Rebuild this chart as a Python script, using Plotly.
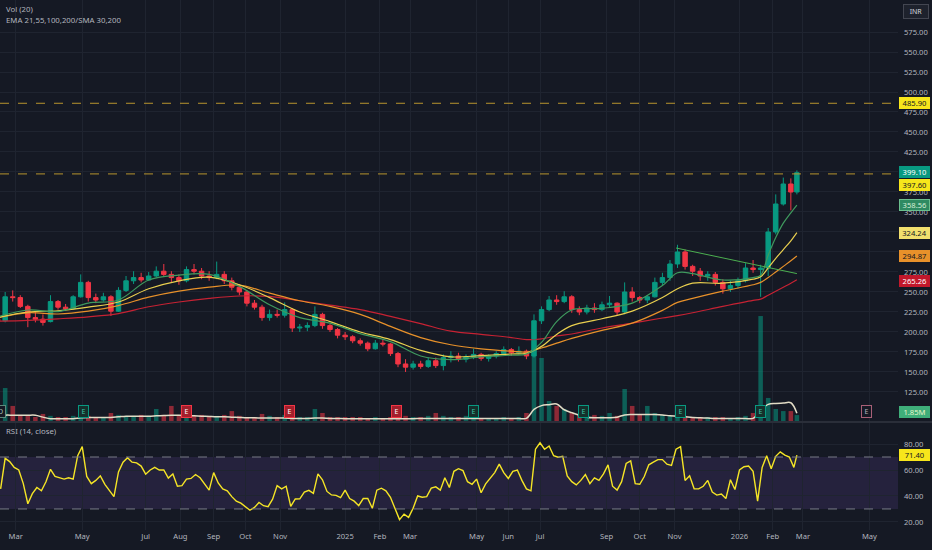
import pandas as pd
import plotly.graph_objects as go

# ---------------- data ----------------
week_dates = list(pd.date_range("2024-02-14", periods=106, freq="7D").strftime("%Y-%m-%d")) + ["2026-02-24"]

opens = [216, 214, 244, 243, 232, 218, 216, 213, 238, 231, 229, 244, 262, 243, 240, 244, 226, 252, 264, 268,
         265, 270, 276, 272, 268, 264, 278, 276, 270, 268, 272, 264, 256, 250, 236, 231, 218, 222, 221, 228,
         205, 206, 208, 222, 208, 203, 196, 194, 189, 186, 179, 186, 185, 173, 160, 156, 160, 157, 164, 158,
         168, 170, 166, 169, 172, 167, 170, 173, 178, 174, 176, 170, 214, 228, 240, 238, 244, 228, 225, 230,
         228, 234, 236, 225, 250, 243, 240, 244, 262, 268, 285, 300, 282, 276, 270, 272, 262, 254, 258, 264,
         280, 278, 280, 325, 360, 385, 375]
highs = [222, 250, 252, 246, 234, 225, 222, 246, 240, 235, 246, 272, 264, 248, 249, 246, 256, 270, 276, 274,
         275, 282, 285, 276, 272, 282, 285, 280, 276, 288, 276, 268, 260, 252, 240, 234, 228, 228, 237, 230,
         210, 212, 232, 224, 210, 205, 200, 196, 192, 188, 190, 191, 186, 175, 166, 164, 164, 168, 168, 172,
         176, 174, 172, 179, 174, 172, 176, 182, 180, 182, 178, 222, 232, 245, 246, 251, 246, 232, 234, 236,
         238, 245, 237, 262, 256, 245, 246, 268, 274, 290, 309, 303, 284, 280, 276, 275, 266, 264, 268, 286,
         290, 284, 330, 372, 393, 392, 402]
lows = [209, 212, 238, 230, 206, 212, 208, 212, 228, 227, 228, 243, 238, 236, 238, 220, 225, 250, 260, 262,
        264, 268, 270, 262, 259, 262, 272, 266, 264, 266, 260, 252, 246, 232, 228, 214, 214, 218, 218, 200,
        200, 201, 206, 204, 200, 192, 190, 186, 183, 176, 178, 182, 170, 156, 150, 153, 154, 155, 155, 152,
        162, 163, 162, 166, 164, 163, 167, 171, 170, 172, 166, 168, 210, 226, 234, 236, 224, 221, 222, 224,
        226, 230, 221, 222, 238, 236, 236, 243, 258, 264, 280, 278, 270, 264, 264, 258, 248, 250, 254, 262,
        274, 244, 270, 322, 358, 352, 372]
closes = [214, 244, 243, 232, 218, 216, 212, 238, 231, 229, 244, 262, 243, 240, 244, 226, 252, 264, 268, 265,
          270, 276, 272, 268, 264, 278, 276, 270, 268, 272, 264, 256, 250, 236, 231, 218, 222, 221, 228, 205,
          206, 208, 222, 208, 203, 196, 194, 189, 186, 179, 186, 185, 173, 160, 156, 160, 157, 164, 158, 168,
          170, 166, 169, 172, 167, 170, 173, 178, 174, 176, 170, 214, 228, 240, 238, 244, 228, 225, 230, 228,
          234, 236, 225, 250, 243, 240, 244, 262, 268, 285, 300, 282, 276, 270, 272, 262, 254, 258, 264, 280,
          278, 280, 325, 360, 385, 375, 399.1]
volume_m = [1.6, 10.3, 4.7, 1.9, 1.6, 1.25, 2.2, 1.6, 1.25, 1.25, 1.6, 2.5, 1.6, 1.25, 1.25, 2.5, 1.9, 1.6, 1.6, 1.9,
            1.6, 3.75, 1.9, 4.7, 1.9, 2.5, 1.6, 1.9, 1.6, 1.6, 1.9, 3.1, 1.6, 1.25, 1.25, 2.2, 1.6, 1.25, 1.9, 1.6,
            1.25, 1.25, 3.75, 2.5, 1.25, 1.25, 1.25, 1.25, 1.25, 0.9, 1.25, 0.9, 1.25, 1.25, 1.6, 1.25, 1.25, 1.6, 2.5, 1.6,
            1.25, 1.25, 1.6, 1.6, 0.9, 0.9, 0.9, 1.25, 0.9, 1.25, 2.5, 31.3, 19.7, 6.25, 4.7, 3.75, 2.5, 1.9, 3.1, 1.9,
            1.6, 2.5, 1.6, 10.0, 4.7, 1.9, 4.7, 2.5, 1.9, 1.6, 1.9, 1.6, 1.25, 1.25, 1.25, 1.25, 1.25, 0.9, 1.25, 1.6,
            2.5, 32.8, 7.2, 3.75, 3.1, 3.1, 1.85]
volume_ma = [1.3, 1.8, 1.8, 1.8, 1.8, 1.8, 1.2, 0.7, 0.7, 0.7, 0.7, 1.0, 1.1, 1.1, 1.1, 1.1, 1.3, 1.5, 1.5, 1.5,
             1.5, 1.6, 1.7, 1.8, 1.8, 1.7, 1.6, 1.5, 1.4, 1.3, 1.3, 1.2, 1.1, 1.0, 1.0, 0.9, 0.9, 0.9, 0.9, 0.8,
             0.8, 0.8, 0.9, 0.9, 0.8, 0.8, 0.7, 0.7, 0.7, 0.7, 0.7, 0.7, 0.7, 0.7, 0.7, 0.7, 0.8, 0.8, 0.8, 0.8,
             0.8, 0.8, 0.8, 0.8, 0.8, 0.8, 0.8, 0.8, 0.8, 0.8, 0.8, 3.6, 4.8, 5.1, 5.3, 3.5, 2.6, 1.8, 1.2, 1.0,
             1.0, 1.0, 1.2, 1.9, 2.0, 2.0, 2.0, 2.0, 1.9, 1.6, 1.5, 1.3, 1.1, 1.0, 0.9, 0.8, 0.8, 0.8, 0.8, 0.8,
             0.8, 3.3, 5.2, 5.5, 5.6, 5.7, 2.4]

ema_idx = [0, 4, 8, 12, 16, 20, 24, 28, 32, 36, 40, 44, 48, 52, 56, 60, 64, 68, 70, 72, 74, 76, 80, 84, 88, 90,
           92, 96, 100, 101, 102, 103, 104, 105, 106]
ema21 = [219, 227.5, 225.5, 236, 240, 265, 271, 272, 257, 234, 218, 211, 198, 188, 170, 165.5, 169, 171, 172.5,
         187, 213, 227.5, 229.6, 236, 258, 274, 273, 265, 268, 271, 296, 318, 336, 349, 358.56]
ema55 = [218, 225, 226.5, 231, 237.5, 254, 264, 268.5, 259, 243, 225, 213, 200, 190.5, 177, 169, 170.5, 172.5,
         173.4, 182, 197, 208, 216.5, 226, 243, 254, 261, 261, 266, 269, 280, 292, 303, 314, 324.24]
ema100 = [218, 224, 222.5, 226, 233, 243.5, 251, 256, 258.5, 248.5, 239, 232, 222, 207, 193, 184, 179, 176, 175,
          180, 186, 192, 202, 211, 227, 237, 242, 251, 259, 262, 268, 275, 282, 289, 294.87]
ema200 = [213.5, 214.5, 216.5, 219, 223, 231.5, 237.5, 242, 245, 244.5, 239, 233.5, 228, 219.5, 210.5, 201, 197,
          193, 190.5, 191.5, 195, 197.5, 205, 211, 217.5, 220.5, 224, 232, 239.5, 241, 246, 251, 256, 261, 265.26]

trend_dates = ["2025-11-04", "2026-02-24"]
trend_vals = [305, 273]

rsi_dates = list(pd.bdate_range("2024-02-16", periods=176, freq="3B").strftime("%Y-%m-%d")) + ["2026-02-24"]
rsi = [45.5, 69, 66.5, 62, 60, 49.5, 34, 41.8, 46.5, 44,
       51, 60.5, 55, 54, 53, 54, 53, 71, 78, 55,
       49.5, 52, 55.5, 49, 44, 39.5, 58.5, 66, 69.5, 66,
       65.5, 63, 56.8, 60, 62, 60, 60, 53.8, 57, 47.5,
       48, 53, 53.5, 56.5, 54, 49, 44.5, 58, 50, 45.5,
       44, 39.5, 36, 34.5, 31.5, 29, 31.2, 35, 32.5, 31.8,
       37.5, 48, 45.5, 47.5, 32, 37.7, 37.8, 43, 44.3, 42,
       57, 52.5, 43.5, 40.8, 40.5, 38.8, 44.5, 38, 36, 32.5,
       38, 38, 30.5, 44.5, 46, 44, 39, 30.5, 21.8, 26,
       23.5, 30.5, 40, 39, 39.5, 46, 47, 44.5, 54, 46.5,
       59, 61, 59.5, 51, 49, 53, 42.5, 49.3, 53.5, 58,
       64.5, 58, 53.5, 59, 60, 52, 45.5, 44, 76, 81,
       76, 78.5, 71, 69.8, 70.5, 55.5, 51, 48.5, 52, 56.5,
       49.5, 54, 52, 57, 64, 47.5, 44.5, 51, 65, 67,
       49.5, 49, 55, 64, 66, 68, 68, 64.5, 63.5, 76,
       78, 52, 55.5, 45.5, 45.5, 47.5, 52, 43, 40.7, 41.5,
       38, 52.5, 45, 60, 62.5, 63, 59, 36, 62, 71,
       61, 70.5, 74, 71.5, 70, 62, 71.4]

levels = [485.90, 397.60]

tick_dates = ["2024-03-01", "2024-05-02", "2024-07-01", "2024-08-01", "2024-09-02", "2024-10-01", "2024-11-01",
              "2025-01-01", "2025-02-03", "2025-03-03", "2025-05-02", "2025-06-02", "2025-07-01", "2025-09-01",
              "2025-10-01", "2025-11-03", "2026-01-01", "2026-02-02", "2026-03-02", "2026-05-01"]
tick_text = ["Mar", "May", "Jul", "Aug", "Sep", "Oct", "Nov", "2025", "Feb", "Mar", "May", "Jun", "Jul", "Sep",
             "Oct", "Nov", "2026", "Feb", "Mar", "May"]
price_ticks = [125, 150, 175, 200, 225, 250, 275, 300, 325, 350, 375, 400, 425, 450, 475, 500, 525, 550, 575]
hidden_price_ticks = [325, 400]
rsi_ticks = [20, 40, 60, 80]

event_dates = ["2024-02-16", "2024-05-03", "2024-08-07", "2024-11-11", "2025-02-18", "2025-04-30",
               "2025-08-11", "2025-11-07", "2026-01-21", "2026-04-29"]
event_kind = ["D", "up", "down", "down", "down", "up", "up", "up", "up", "future"]

# ---------------- styling ----------------
BG = "#151924"
GRID = "#1f2430"
TXT = "#b2b5be"
UP = "#089981"
DN = "#f23645"
FONT = "Noto Sans"
FS = 7.6

fig = go.Figure()

fig.add_trace(go.Candlestick(
    x=week_dates, open=opens, high=highs, low=lows, close=closes,
    increasing=dict(line=dict(color=UP, width=1), fillcolor=UP),
    decreasing=dict(line=dict(color=DN, width=1), fillcolor=DN),
    whiskerwidth=0, xaxis="x", yaxis="y", showlegend=False, hoverinfo="skip"))

ema_dates = [week_dates[i] for i in ema_idx]
for vals, col in [(ema200, "#c62233"), (ema100, "#e8912a"), (ema55, "#e9cf4f"), (ema21, "#3f9a5e")]:
    fig.add_trace(go.Scatter(x=ema_dates, y=vals, mode="lines", line=dict(color=col, width=1.2, shape="spline"),
                             xaxis="x", yaxis="y", showlegend=False, hoverinfo="skip"))

fig.add_trace(go.Scatter(x=trend_dates, y=trend_vals, mode="lines", line=dict(color="#4caf50", width=1),
                         xaxis="x", yaxis="y", showlegend=False, hoverinfo="skip"))

vol_colors = ["rgba(8,153,129,0.55)" if c >= o else "rgba(242,54,69,0.55)" for o, c in zip(opens, closes)]
fig.add_trace(go.Bar(x=week_dates, y=volume_m, marker=dict(color=vol_colors, line=dict(width=0)),
                     width=3 * 86400000, xaxis="x", yaxis="y3", showlegend=False, hoverinfo="skip"))
fig.add_trace(go.Scatter(x=week_dates, y=volume_ma, mode="lines", line=dict(color="#e2dcc6", width=1.5, shape="spline"),
                         xaxis="x", yaxis="y3", showlegend=False, hoverinfo="skip"))

fig.add_trace(go.Scatter(x=rsi_dates, y=rsi, mode="lines", line=dict(color="#f5e526", width=1.4),
                         xaxis="x2", yaxis="y2", showlegend=False, hoverinfo="skip"))

xr = ["2024-02-15 14:00", "2026-05-27 22:00"]
rb = [dict(bounds=["sat", "mon"])]
common_x = dict(range=xr, rangebreaks=rb, tickvals=tick_dates, ticktext=tick_text, showgrid=True,
                gridcolor=GRID, gridwidth=1, zeroline=False, showline=False, ticks="",
                tickfont=dict(family=FONT, size=FS, color=TXT), fixedrange=True)

fig.update_layout(
    width=932, height=550, paper_bgcolor=BG, plot_bgcolor=BG,
    margin=dict(l=0, r=34, t=0, b=20), hovermode=False, showlegend=False,
    xaxis=dict(**common_x, anchor="y", showticklabels=False, matches="x2", rangeslider=dict(visible=False)),
    xaxis2=dict(**common_x, anchor="y2"),
    yaxis=dict(domain=[0.2057, 1], range=[88.75, 615], side="right", anchor="x",
               tickvals=price_ticks,
               ticktext=["" if v in hidden_price_ticks else f"{v:.2f}" for v in price_ticks],
               tickfont=dict(family=FONT, size=FS, color=TXT), showgrid=True, gridcolor=GRID,
               zeroline=False, ticks="", ticklabelstandoff=5, fixedrange=True),
    yaxis3=dict(overlaying="y", range=[0, 131.6], visible=False, fixedrange=True),
    yaxis2=dict(domain=[0, 0.2019], range=[13.8, 96.2], side="right", anchor="x2",
                tickvals=rsi_ticks, ticktext=[f"{v:.2f}" for v in rsi_ticks],
                tickfont=dict(family=FONT, size=FS, color=TXT), showgrid=True, gridcolor=GRID,
                zeroline=False, ticks="", ticklabelstandoff=5, fixedrange=True),
)

shapes = []
shapes.append(dict(type="rect", xref="paper", yref="y2", x0=0, x1=1, y0=30, y1=70,
                   fillcolor="rgba(126,87,194,0.16)", line=dict(width=0), layer="below"))
for lv in [70, 30]:
    shapes.append(dict(type="line", xref="paper", yref="y2", x0=0, x1=1, y0=lv, y1=lv,
                       line=dict(color="#787b86", width=1, dash="dash")))
for lv in levels:
    shapes.append(dict(type="line", xref="paper", yref="y", x0=0, x1=1, y0=lv, y1=lv,
                       line=dict(color="#b8952e", width=1, dash="dash")))
shapes.append(dict(type="line", xref="paper", yref="paper", x0=0, x1=1.04, y0=0.2038, y1=0.2038,
                   line=dict(color="#2a2e39", width=2)))
fig.update_layout(shapes=shapes)

ann = []
def label(text, yval, yref, bg, fg, yshift=0, border=None):
    ann.append(dict(text=text, xref="paper", x=1, xanchor="left", xshift=1, yref=yref, y=yval,
                    yanchor="middle", yshift=yshift, showarrow=False, bgcolor=bg,
                    bordercolor=border or bg, borderwidth=1, borderpad=0, width=29, height=10,
                    font=dict(family=FONT, size=FS, color=fg)))

label("485.90", 485.90, "y", "#f7e61b", "#131722")
label("399.10", 399.10, "y", "#089981", "#ffffff", yshift=1)
label("397.60", 397.60, "y", "#f7e61b", "#131722", yshift=-11)
label("358.56", 358.56, "y", "#2f8a62", "#d6eed6", border="#6bbf8e")
label("324.24", 324.24, "y", "#f1df6e", "#131722")
label("294.87", 294.87, "y", "#e8912a", "#131722")
label("265.26", 265.26, "y", "#c2182b", "#ffffff", yshift=-1)
label("1.85M", 1.85, "y3", "#3fae7a", "#e6f5c8", yshift=3)
label("71.40", 71.40, "y2", "#f7e61b", "#131722")

ann.append(dict(text="INR", xref="paper", x=1, xanchor="left", xshift=5, yref="paper", y=1, yanchor="top",
                yshift=-4, showarrow=False, bgcolor="#1e222d", bordercolor="#434651", borderwidth=1,
                borderpad=0, width=24, height=13, font=dict(family=FONT, size=7, color="#d1d4dc")))

for t, dy in [("Vol (20)", -9), ("EMA 21,55,100,200/SMA 30,200", -20)]:
    ann.append(dict(text=t, xref="paper", x=0, xanchor="left", xshift=4, yref="paper", y=1, yanchor="middle",
                    yshift=dy, showarrow=False, font=dict(family=FONT, size=7.8, color=TXT)))
ann.append(dict(text="RSI (14, close)", xref="paper", x=0, xanchor="left", xshift=4, yref="paper", y=0.2019,
                yanchor="middle", yshift=-8, showarrow=False, font=dict(family=FONT, size=7.8, color=TXT)))

ev_style = {
    "D": dict(bg="#151924", bc="#5e8a7c", fc="#9fb8b0", txt="D"),
    "up": dict(bg="#14302c", bc="#089981", fc="#3cc0a6", txt="E"),
    "down": dict(bg="#a31f2c", bc="#f23645", fc="#ffffff", txt="E"),
    "future": dict(bg="#151924", bc="#a86077", fc="#b2b5be", txt="E"),
}
for d, k in zip(event_dates, event_kind):
    s = ev_style[k]
    ann.append(dict(text=s["txt"], xref="x", x=d, yref="paper", y=1 - 411 / 530, yanchor="middle",
                    showarrow=False, bgcolor=s["bg"], bordercolor=s["bc"], borderwidth=1, borderpad=0,
                    width=9, height=11, font=dict(family=FONT, size=7, color=s["fc"])))

fig.update_layout(annotations=ann)
fig.write_html("out.html", config={"displayModeBar": False},
               post_script="document.body.style.margin='0';document.body.style.overflow='hidden';")
